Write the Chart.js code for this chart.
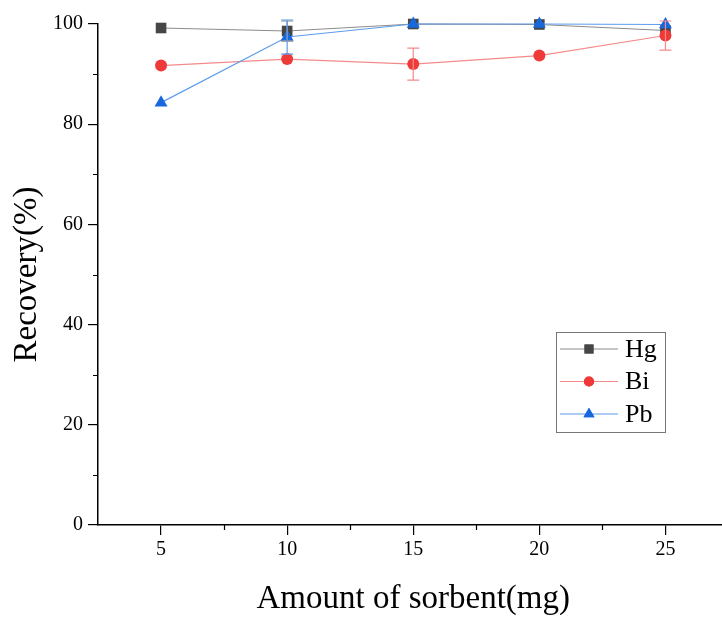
<!DOCTYPE html>
<html>
<head>
<meta charset="utf-8">
<script src="https://cdn.jsdelivr.net/npm/chart.js@4/dist/chart.umd.min.js"></script>
<style>
    html, body { margin: 0; padding: 0; background: #fff; overflow: hidden; }
    #wrap { width: 722px; height: 617px; overflow: hidden; }
</style>
</head>
<body>
<div id="wrap"><canvas id="recoveryChart" width="736" height="617"></canvas></div>
<script>
const sorbent = [5, 10, 15, 20, 25];
const xMajor = [5, 10, 15, 20, 25];
const xMinor = [7.5, 12.5, 17.5, 22.5];
const yMajor = [0, 20, 40, 60, 80, 100];
const yMinor = [10, 30, 50, 70, 90];

const hg = [99.2, 98.6, 100, 99.9, 98.7];
const hgErr = [0, 2.0, 0, 0, 0];
const bi = [91.7, 93.0, 92.0, 93.7, 97.7];
const biErr = [0, 0, 3.2, 0, 2.9];
const pb = [84.3, 97.4, 100, 100, 99.9];
const pbErr = [0, 3.4, 0, 0, 0];

const series = [
    { label: 'Hg', values: hg, errors: hgErr, line: '#8c8c8c', marker: '#464646', style: 'rect', radius: 7.5, order: 3 },
    { label: 'Bi', values: bi, errors: biErr, line: '#f58a8a', marker: '#f03a3a', style: 'circle', radius: 6, order: 2 },
    { label: 'Pb', values: pb, errors: pbErr, line: '#5d9cec', marker: '#1668dc', style: 'triangle', radius: 7.5, order: 1 }
];

const serif = '"Liberation Serif", "Times New Roman", serif';

// error bars drawn through the chart's own scales
const errorBars = {
    id: 'errorBars',
    afterDatasetsDraw(chart) {
        const { ctx, scales: { x, y } } = chart;
        ctx.save();
        series.forEach(s => {
            ctx.strokeStyle = s.line;
            ctx.lineWidth = 1.2;
            s.errors.forEach((e, i) => {
                if (!e) return;
                const px = x.getPixelForValue(sorbent[i]);
                const top = y.getPixelForValue(s.values[i] + e);
                const bot = y.getPixelForValue(s.values[i] - e);
                ctx.beginPath();
                ctx.moveTo(px, top); ctx.lineTo(px, bot);
                ctx.moveTo(px - 6, top); ctx.lineTo(px + 6, top);
                ctx.moveTo(px - 6, bot); ctx.lineTo(px + 6, bot);
                ctx.stroke();
            });
        });
        ctx.restore();
    }
};

// short minor ticks between the labelled ones
const minorTicks = {
    id: 'minorTicks',
    afterDraw(chart) {
        const { ctx, scales: { x, y }, chartArea } = chart;
        ctx.save();
        ctx.strokeStyle = '#000';
        ctx.lineWidth = 1.2;
        ctx.beginPath();
        xMinor.forEach(v => {
            const px = Math.round(x.getPixelForValue(v)) + 0.5;
            ctx.moveTo(px, chartArea.bottom);
            ctx.lineTo(px, chartArea.bottom + 5);
        });
        yMinor.forEach(v => {
            const py = Math.round(y.getPixelForValue(v)) + 0.5;
            ctx.moveTo(chartArea.left, py);
            ctx.lineTo(chartArea.left - 5, py);
        });
        ctx.stroke();
        ctx.restore();
    }
};

// boxed legend inside the plot, like the original
const boxLegend = {
    id: 'boxLegend',
    afterDraw(chart) {
        const { ctx } = chart;
        const left = 556, top = 332, w = 109, h = 100;
        ctx.save();
        ctx.strokeStyle = '#777';
        ctx.lineWidth = 1;
        ctx.strokeRect(left + 0.5, top + 0.5, w, h);
        series.forEach((s, i) => {
            const cy = top + 17 + i * 32.5;
            ctx.strokeStyle = s.line;
            ctx.lineWidth = 1.2;
            ctx.beginPath();
            ctx.moveTo(left + 4, cy); ctx.lineTo(left + 62, cy);
            ctx.stroke();
            ctx.fillStyle = s.marker;
            Chart.helpers.drawPoint(ctx, { pointStyle: s.style, radius: s.radius * 0.85, rotation: 0, borderWidth: 0 }, left + 33, cy);
            ctx.fill();
            ctx.fillStyle = '#000';
            ctx.font = '26px ' + serif;
            ctx.textBaseline = 'middle';
            ctx.fillText(s.label, left + 69, cy + 1);
        });
        ctx.restore();
    }
};

new Chart(document.getElementById('recoveryChart').getContext('2d'), {
    type: 'line',
    data: {
        datasets: series.map(s => ({
            label: s.label,
            data: sorbent.map((v, i) => ({ x: v, y: s.values[i] })),
            order: s.order,
            clip: false,
            borderColor: s.line,
            borderWidth: 1.2,
            backgroundColor: s.marker,
            pointBackgroundColor: s.marker,
            pointBorderWidth: 0,
            pointStyle: s.style,
            pointRadius: s.radius,
            tension: 0,
            fill: false
        }))
    },
    options: {
        responsive: false,
        animation: false,
        layout: { padding: { top: 24, right: 0, left: 0, bottom: 0 } },
        plugins: {
            legend: { display: false },
            tooltip: { enabled: false }
        },
        scales: {
            x: {
                type: 'linear',
                min: 2.5,
                max: 27.5,
                afterBuildTicks: scale => {
                    scale.ticks = xMajor.map(v => ({ value: v }));
                },
                afterFit: scale => { scale.height = 92; },
                border: { color: '#000', width: 1.5 },
                grid: { drawOnChartArea: false, color: '#000', tickLength: 10, lineWidth: 1.2 },
                ticks: {
                    color: '#000',
                    font: { family: serif, size: 20 },
                    padding: 3,
                    autoSkip: false,
                    maxRotation: 0
                },
                title: {
                    display: true,
                    text: 'Amount of sorbent(mg)',
                    color: '#000',
                    font: { family: serif, size: 33, lineHeight: 1.1 },
                    padding: { top: 0, bottom: 0 }
                }
            },
            y: {
                min: 0,
                max: 100,
                afterBuildTicks: scale => {
                    scale.ticks = yMajor.map(v => ({ value: v }));
                },
                afterFit: scale => { scale.width = 98; },
                border: { color: '#000', width: 1.5 },
                grid: { drawOnChartArea: false, color: '#000', tickLength: 10, lineWidth: 1.2 },
                ticks: {
                    color: '#000',
                    font: { family: serif, size: 20 },
                    padding: 5,
                    autoSkip: false
                },
                title: {
                    display: true,
                    text: 'Recovery(%)',
                    color: '#000',
                    font: { family: serif, size: 33 },
                    padding: { top: 8, bottom: 0 }
                }
            }
        }
    },
    plugins: [errorBars, minorTicks, boxLegend]
});
</script>
</body>
</html>
